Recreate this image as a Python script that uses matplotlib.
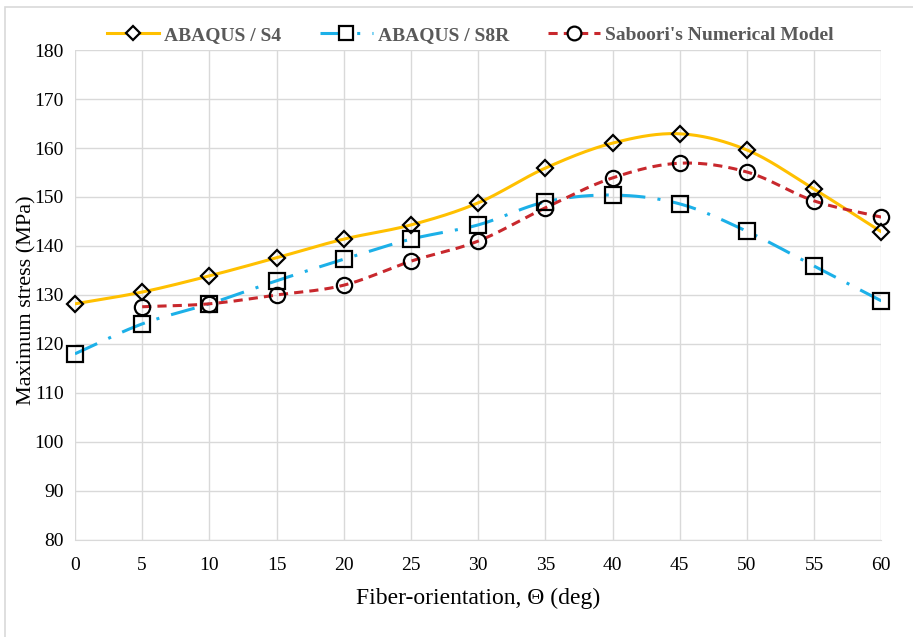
import matplotlib.pyplot as plt
import numpy as np
from matplotlib.patches import Rectangle

theta = [0, 5, 10, 15, 20, 25, 30, 35, 40, 45, 50, 55, 60]
s4 = [128.2, 130.6, 133.9, 137.6, 141.4, 144.3, 148.8, 155.9, 161.0, 162.9, 159.6, 151.6, 142.9]
s8r = [118.0, 124.1, 128.2, 132.9, 137.3, 141.4, 144.3, 149.0, 150.4, 148.6, 143.0, 135.9, 128.8]
saboori_theta = [5, 10, 15, 20, 25, 30, 35, 40, 45, 50, 55, 60]
saboori = [127.6, 128.2, 130.0, 132.0, 136.9, 141.0, 147.8, 153.9, 156.9, 155.1, 149.2, 145.9]


def smooth(x, y, n=20):
    # Catmull-Rom curve through the points, like Excel's smoothed line
    x = np.asarray(x, float)
    y = np.asarray(y, float)
    px = np.concatenate([[2 * x[0] - x[1]], x, [2 * x[-1] - x[-2]]])
    py = np.concatenate([[2 * y[0] - y[1]], y, [2 * y[-1] - y[-2]]])
    t = np.linspace(0, 1, n, endpoint=False)
    xs, ys = [], []
    for i in range(1, len(px) - 2):
        for p, out in ((px, xs), (py, ys)):
            p0, p1, p2, p3 = p[i - 1], p[i], p[i + 1], p[i + 2]
            out.extend(0.5 * (2 * p1 + (-p0 + p2) * t + (2 * p0 - 5 * p1 + 4 * p2 - p3) * t ** 2
                              + (-p0 + 3 * p1 - 3 * p2 + p3) * t ** 3))
    xs.append(x[-1])
    ys.append(y[-1])
    return xs, ys


plt.rcParams['font.family'] = ['Liberation Serif', 'DejaVu Serif']

fig = plt.figure(figsize=(9.13, 6.37), dpi=100)
fig.patches.append(Rectangle((5 / 913, -0.01), 1.0, (637 - 7) / 637 + 0.01, transform=fig.transFigure,
                             fill=False, edgecolor='#d9d9d9', linewidth=1.2))
ax = fig.add_axes([0.0821, 0.1523, 0.8832, 0.7692])

series = [
    (theta, s4, '#FFC000', '-', 'D', 8, 'ABAQUS / S4'),
    (theta, s8r, '#1CB0E8', (0, (8, 4, 1, 4)), 's', 11, 'ABAQUS / S8R'),
    (saboori_theta, saboori, '#C8282D', (0, (3, 2)), 'o', 11, "Saboori's Numerical Model"),
]
for x, y, color, ls, mk, ms, label in series:
    sx, sy = smooth(x, y)
    ax.plot(sx, sy, color=color, linestyle=ls, linewidth=2.2, zorder=2)
    ax.plot(x, y, linestyle='none', marker=mk, markersize=ms, markerfacecolor='none',
            markeredgecolor='black', markeredgewidth=1.6, zorder=3, clip_on=False)
    ax.plot([], [], color=color, linestyle=ls, linewidth=2.2, marker=mk, markersize=ms * 0.9,
            markerfacecolor='white', markeredgecolor='black', markeredgewidth=1.6, label=label)

ax.set_xlim(0, 60)
ax.set_ylim(80, 180)
ax.set_xticks(theta)
ax.set_yticks(range(80, 181, 10))
ax.grid(True, color='#d9d9d9', linewidth=1)
ax.set_axisbelow(True)
for side in ('top', 'right', 'left'):
    ax.spines[side].set_visible(False)
ax.spines['bottom'].set_color('#d9d9d9')
ax.tick_params(length=0, labelsize=14, pad=8)
ax.tick_params(axis='x', pad=12)

ax.set_xlabel('Fiber-orientation, \u0398 (deg)', fontsize=17, labelpad=10)
ax.set_ylabel('Maximum stress (MPa)', fontsize=16)
ax.yaxis.set_label_coords(-0.048, 0.49)

leg = fig.legend(loc='center', bbox_to_anchor=(0.515, 0.945), ncol=3, frameon=False,
                 handlelength=2.7, columnspacing=2.0, handletextpad=0.25,
                 prop={'weight': 'bold', 'size': 14})
for txt in leg.get_texts():
    txt.set_color('#595959')

fig.savefig('out.png', dpi=100)
